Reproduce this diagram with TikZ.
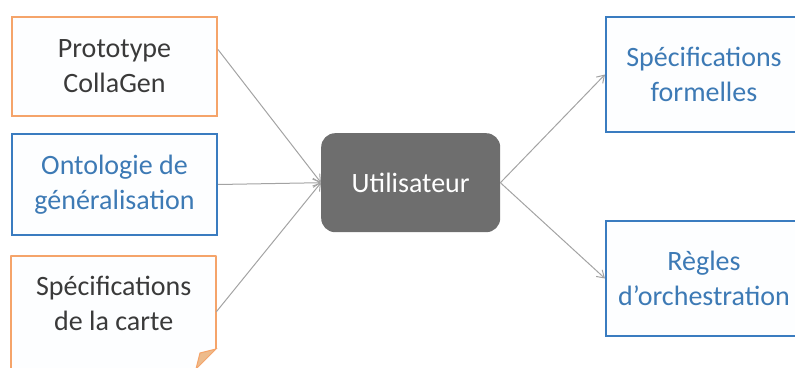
\documentclass[tikz,border=0pt]{standalone}
\usepackage{fontspec}
\setmainfont{Carlito}
\usetikzlibrary{arrows.meta}
\definecolor{orangeb}{HTML}{F5A46A}
\definecolor{blueb}{HTML}{3A7CC0}
\definecolor{bluet}{HTML}{3D7AB5}
\definecolor{darkt}{HTML}{3A3A3A}
\definecolor{userfill}{HTML}{6E6E6E}
\definecolor{arrowc}{HTML}{A3A3A3}
\definecolor{boxfill}{HTML}{FDFEFF}
\definecolor{foldc}{HTML}{EDBB8C}
\tikzset{
  txt/.style={font=\fontsize{28}{35}\selectfont, align=center},
  obox/.style={draw=orangeb, line width=2pt, fill=boxfill, minimum width=205pt, minimum height=99pt, inner sep=0pt, txt, text=darkt},
  bbox/.style={draw=blueb, line width=2pt, fill=boxfill, minimum width=205pt, minimum height=101pt, inner sep=0pt, txt, text=bluet},
  rbox/.style={draw=blueb, line width=2pt, fill=boxfill, minimum width=196pt, minimum height=115pt, inner sep=0pt, txt, text=bluet},
  conn/.style={draw=arrowc, line width=1pt, -{Straight Barb[length=7pt,width=9pt]}},
}
\begin{document}
\begin{tikzpicture}[x=1pt,y=-1pt]
\useasboundingbox (0,0) rectangle (795,367);
\begin{scope}
\clip (0,0) rectangle (795,367);
% left boxes
\node[obox, anchor=north west] (proto) at (11,16) {Prototype\\CollaGen};
\node[bbox, anchor=north west] (onto) at (11,133) {Ontologie de\\généralisation};
% folded note
\fill[boxfill] (11,256) -- (216,256) -- (216,349) -- (196,369) -- (11,369) -- cycle;
\draw[orangeb, line width=2pt, line join=round] (196,369) -- (11,369) -- (11,256) -- (216,256) -- (216,349);
\draw[orangeb, line width=1pt, fill=foldc] (216,349) -- (196,369) -- (200,353) -- cycle;
\node[txt, text=darkt, minimum width=205pt, minimum height=95pt, inner sep=0pt, anchor=north west] (carte) at (11,256) {Spécifications\\de la carte};
% center
\node[fill=userfill, rounded corners=14pt, minimum width=179pt, minimum height=99pt, inner sep=0pt, txt, text=white, anchor=north west] (user) at (321,133) {Utilisateur};
% right boxes
\node[rbox, anchor=north west] (formel) at (605,16) {Spécifications\\formelles};
\node[rbox, anchor=north west] (regles) at (605,220) {Règles\\d’orchestration};
% connectors
\coordinate (uin) at (user.west);
\coordinate (uout) at (user.east);
\draw[conn] (proto.east) ++(0,-17) coordinate (p1) (p1) -- (uin);
\draw[conn] (onto.east) -- (uin);
\draw[conn] (carte.east) ++(0,8) coordinate (c1) (c1) -- (uin);
\draw[conn] (uout) -- (formel.west);
\draw[conn] (uout) -- (regles.west);
\end{scope}
\end{tikzpicture}
\end{document}
